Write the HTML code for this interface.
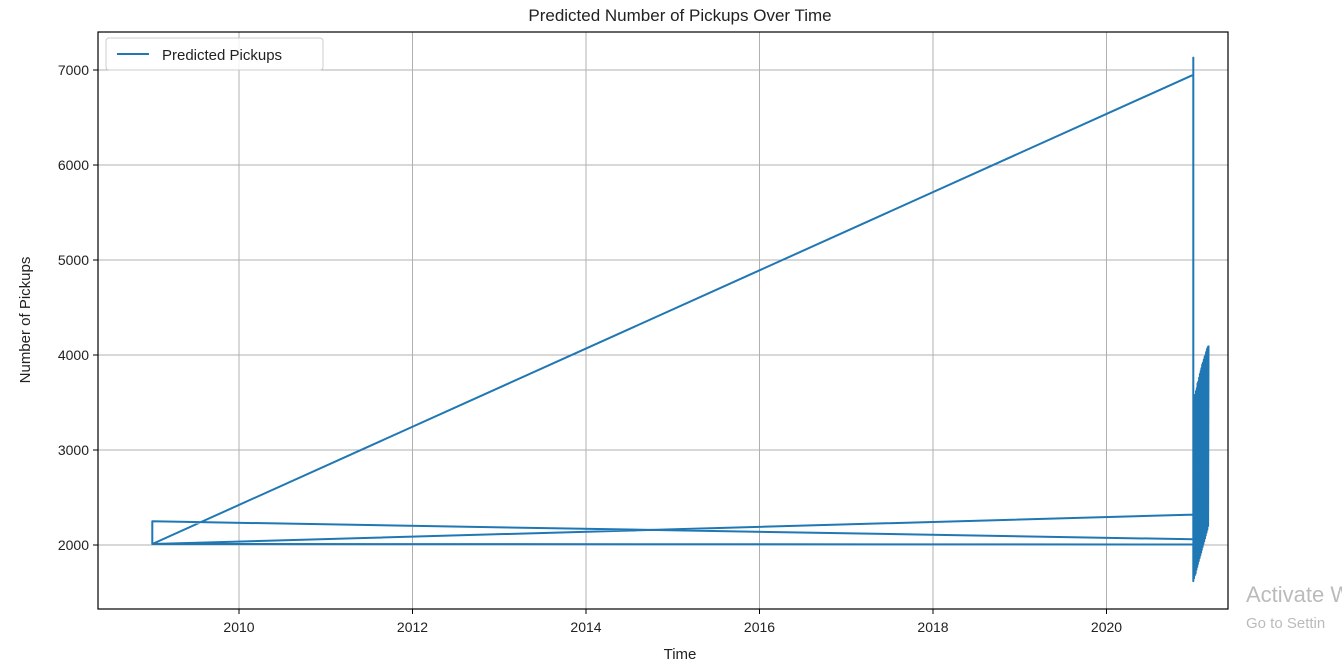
<!DOCTYPE html>
<html><head><meta charset="utf-8"><style>
body{margin:0;background:#fff;width:1342px;height:662px;overflow:hidden;font-family:"Liberation Sans","DejaVu Sans",sans-serif}
</style></head><body>
<svg width="1342" height="662" font-family="Liberation Sans, DejaVu Sans, sans-serif">
<text x="680" y="21" text-anchor="middle" font-size="17" fill="#222">Predicted Number of Pickups Over Time</text>
<g id="grid"></g>
<g id="ticks"></g>
<path id="line" fill="none" stroke="#1f77b4" stroke-width="2" stroke-linejoin="round"/>
<rect x="98" y="32" width="1130" height="577" fill="none" stroke="#000" stroke-width="1.2"/>
<g>
<rect x="106" y="38" width="217" height="32" rx="3" fill="#fff" fill-opacity="0.85" stroke="#ccc"/>
<line x1="117" y1="54" x2="149" y2="54" stroke="#1f77b4" stroke-width="2"/>
<text x="162" y="60" font-size="15" fill="#222">Predicted Pickups</text>
</g>
<text x="680" y="659" text-anchor="middle" font-size="15" fill="#222">Time</text>
<text transform="translate(30,320) rotate(-90)" text-anchor="middle" font-size="15" fill="#222">Number of Pickups</text>
<text x="1246" y="602" font-size="22" fill="#bbb">Activate W</text>
<text x="1246" y="628" font-size="15" fill="#bbb">Go to Settin</text>
</svg>
<script>
const xTicks=[2010,2012,2014,2016,2018,2020];
const yTicks=[2000,3000,4000,5000,6000,7000];
const mainX=[2021.0,2009.0,2021.0,2021.0,2021.0,2009.0,2009.0,2021.0];
const mainY=[2320,2010,6950,7130,2060,2250,2010,2005];
const oscLows=[1620,1650,1680,1700,1740,1770,1800,1830,1860,1890,1920,1950,1980,2010,2040,2070,2100,2130,2160,2200];
const oscHighs=[3500,3550,3580,3620,3650,3700,3720,3760,3800,3830,3860,3900,3920,3950,3980,4000,4030,4060,4080,4100];
const oscStart=2021.0, oscStep=0.009;
function X(v){return 239+(v-2010)*86.75;}
function Y(v){return 545-(v-2000)*0.095;}
const ns="http://www.w3.org/2000/svg";
const grid=document.getElementById('grid'),tk=document.getElementById('ticks');
function mk(t,a,p){const e=document.createElementNS(ns,t);for(const k in a)e.setAttribute(k,a[k]);p.appendChild(e);return e;}
xTicks.forEach(v=>{const x=X(v);
 const g=mk('line',{x1:x,x2:x,y1:32,y2:609,stroke:'#b0b0b0','stroke-width':1},grid);
 
 
 mk('line',{x1:x,x2:x,y1:609,y2:614,stroke:'#000'},tk);
 const t=mk('text',{x:x,y:632,'text-anchor':'middle','font-size':14,fill:'#222'},tk);t.textContent=v;
 
 
});
yTicks.forEach(v=>{const y=Y(v);
 const g=mk('line',{x1:98,x2:1228,y1:y,y2:y,stroke:'#b0b0b0','stroke-width':1},grid);
 
 
 mk('line',{x1:93,x2:98,y1:y,y2:y,stroke:'#000'},tk);
 const t=mk('text',{x:89,y:y+5,'text-anchor':'end','font-size':14,fill:'#222'},tk);t.textContent=v;
 
 
});
let pts=mainX.map((x,i)=>[X(x),Y(mainY[i])]);
oscLows.forEach((lo,i)=>{const t=oscStart+i*oscStep;pts.push([X(t),Y(lo)]);pts.push([X(t+oscStep/2),Y(oscHighs[i])]);});
document.getElementById('line').setAttribute('d','M'+pts.map(p=>p[0].toFixed(1)+','+p[1].toFixed(1)).join('L'));
</script>
</body></html>
